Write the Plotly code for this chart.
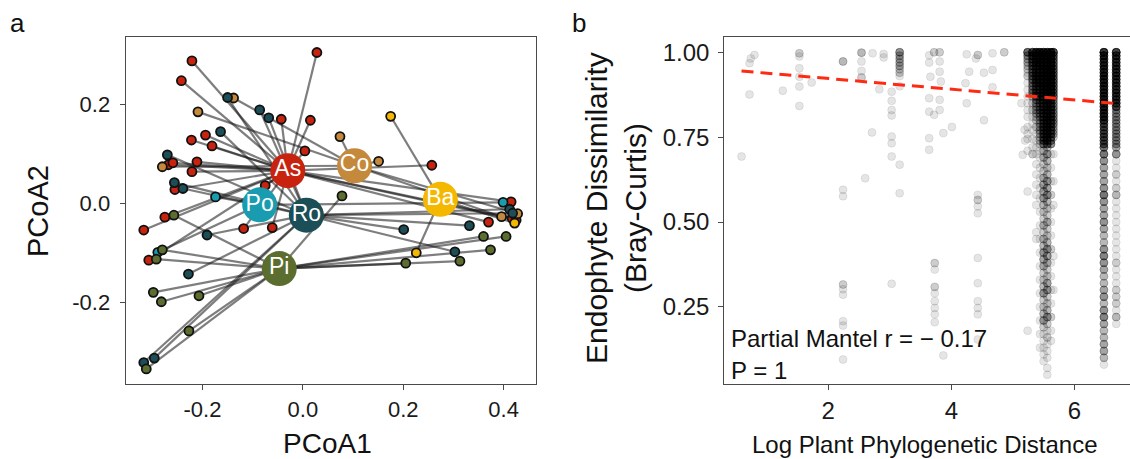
import plotly.graph_objects as go

FONT = "Liberation Sans, Arial, Helvetica, sans-serif"

# ---------------- Panel a : PCoA ----------------
groups = ["As", "Co", "Ba", "Po", "Ro", "Pi"]
group_colors = ["#C8230F", "#C5893B", "#F5B800", "#1A9CB0", "#1B4E56", "#5B6E2F"]
centroid_x = [-0.030, 0.103, 0.274, -0.086, 0.007, -0.047]
centroid_y = [0.066, 0.076, 0.008, -0.003, -0.024, -0.132]

as_x = [0.028, -0.221, -0.242, -0.043, 0.015, -0.222, -0.194, -0.181, 0.004, -0.211, -0.221, -0.268, -0.259,
        -0.255, -0.075, 0.257, -0.317, -0.275, -0.118, -0.061, -0.307, 0.415, 0.417, 0.425, 0.370]
as_y = [0.305, 0.288, 0.248, 0.170, 0.168, 0.128, 0.138, 0.116, 0.106, 0.084, 0.064, 0.078, 0.082,
        0.028, 0.036, 0.077, -0.054, -0.028, -0.051, -0.049, -0.115, 0.003, -0.030, -0.034, -0.038]
co_x = [-0.138, -0.209, 0.074, 0.151, -0.280, 0.396, 0.428]
co_y = [0.213, 0.185, 0.135, 0.085, 0.074, -0.027, -0.021]
ba_x = [0.175, 0.226, 0.422]
ba_y = [0.176, -0.100, -0.040]
po_x = [-0.174, -0.289, 0.399]
po_y = [0.013, -0.099, 0.002]
ro_x = [-0.150, -0.086, -0.068, -0.164, -0.270, -0.256, -0.239, -0.191, -0.228, -0.317, -0.296,
        0.201, 0.332, 0.303, 0.412, 0.418]
ro_y = [0.214, 0.189, 0.173, 0.145, 0.098, 0.042, 0.030, -0.064, -0.143, -0.322, -0.313,
        -0.053, -0.045, -0.098, -0.012, -0.020]
pi_x = [0.078, -0.257, -0.280, -0.292, -0.298, -0.282, -0.207, -0.227, -0.312, 0.205, 0.313, 0.374, 0.360, 0.405]
pi_y = [0.015, -0.024, -0.094, -0.113, -0.180, -0.199, -0.187, -0.258, -0.335, -0.121, -0.117, -0.094, -0.067, -0.067]

a_xticks = [-0.2, 0.0, 0.2, 0.4]
a_xticktext = ["-0.2", "0.0", "0.2", "0.4"]
a_yticks = [-0.2, 0.0, 0.2]
a_yticktext = ["-0.2", "0.0", "0.2"]

# ---------------- Panel b : distance-decay ----------------
sparse_x = [0.59, 0.72, 0.74, 0.80, 1.26, 1.53, 1.73, 2.24, 2.54, 2.60, 2.71, 2.72, 2.83, 2.90,
            3.03, 3.16, 3.64, 3.66, 3.72, 3.73, 3.81, 3.83, 3.87, 4.01, 4.23, 4.25, 4.29, 4.40, 4.43,
            4.53, 4.67, 4.86, 5.14, 5.16, 5.19, 5.20]
sparse_y = [
    [0.693],
    [0.968, 0.876],
    [0.982],
    [0.992],
    [0.887],
    [0.997, 0.997, 0.988, 0.953, 0.928, 0.899, 0.842],
    [0.911],
    [0.973, 0.973, 0.973, 0.595, 0.576, 0.316, 0.316, 0.302, 0.286, 0.208, 0.195, 0.095],
    [0.999, 0.999, 0.999, 0.973, 0.945, 0.926, 0.926],
    [0.629],
    [0.764],
    [0.997],
    [0.891],
    [0.995, 0.985],
    [0.884, 0.857, 0.830, 0.814, 0.752, 0.732, 0.693, 0.318],
    [1.00, 1.00, 1.00, 1.00, 1.00, 0.99, 0.99, 0.99, 0.98, 0.98, 0.98, 0.97, 0.97, 0.97,
     0.96, 0.96, 0.96, 0.95, 0.95, 0.94, 0.94, 0.93, 0.90, 0.669, 0.585],
    [0.991, 0.970, 0.865, 0.825, 0.747, 0.713],
    [0.928],
    [1.00, 1.00, 0.816],
    [0.379, 0.379, 0.360, 0.309, 0.309, 0.290, 0.267, 0.247, 0.228, 0.205],
    [1.00, 1.00, 0.973, 0.943, 0.860, 0.830],
    [0.914],
    [0.762, 0.107],
    [0.780],
    [0.909],
    [0.994, 0.850],
    [0.943],
    [0.982],
    [0.992, 0.992, 0.580, 0.565, 0.565, 0.546, 0.526, 0.394, 0.320, 0.267, 0.247, 0.228, 0.154],
    [0.940, 0.800],
    [0.997, 0.948, 0.897],
    [1.00, 1.00],
    [0.850],
    [0.698],
    [0.772],
    [0.740],
]

TOP14 = [1.00, 0.99, 0.98, 0.97, 0.96, 0.95, 0.94, 0.93, 0.92, 0.91, 0.90, 0.89, 0.88, 0.87]
MID14 = [0.86, 0.85, 0.84, 0.83, 0.82, 0.81, 0.80, 0.79, 0.78, 0.77, 0.76, 0.75, 0.74, 0.73]

dense_x = [5.24, 5.32, 5.38, 5.44, 5.50, 5.56, 5.62, 5.66, 6.48, 6.68]
dense_y = [
    [1.00, 0.99, 0.98, 0.97, 0.96, 0.95, 0.94, 0.93, 0.91, 0.89, 0.87, 0.85, 0.83, 0.81, 0.78, 0.76, 0.745,
     0.71, 0.59, 0.18],
    TOP14 + [0.85, 0.83, 0.81, 0.79, 0.77, 0.745, 0.72, 0.70],
    TOP14 + [0.86, 0.85, 0.84, 0.83, 0.82, 0.81, 0.80, 0.78, 0.76, 0.74, 0.72, 0.70, 0.67, 0.64, 0.61, 0.58,
             0.55, 0.47, 0.45],
    TOP14 + MID14 + [0.71, 0.69, 0.66, 0.63, 0.60, 0.57, 0.53, 0.49, 0.45, 0.41, 0.37, 0.33, 0.29, 0.25, 0.21,
                     0.17, 0.13],
    TOP14 + MID14 + [0.71, 0.69, 0.67, 0.65, 0.63, 0.61, 0.59, 0.57, 0.55, 0.53, 0.51, 0.49, 0.47, 0.45, 0.43,
                     0.41, 0.39, 0.37, 0.35, 0.33, 0.31, 0.29, 0.27, 0.25, 0.23, 0.21, 0.19, 0.17, 0.15, 0.13,
                     0.11, 0.09],
    TOP14 + MID14 + [0.72, 0.70, 0.68, 0.66, 0.64, 0.62, 0.60, 0.58, 0.56, 0.54, 0.52, 0.50, 0.48, 0.46, 0.44,
                     0.42, 0.40, 0.38, 0.36, 0.34, 0.32, 0.30, 0.28, 0.26, 0.24, 0.22, 0.20, 0.18, 0.16, 0.14,
                     0.12, 0.10, 0.07, 0.05],
    TOP14 + MID14 + [0.70, 0.66, 0.62, 0.58, 0.54, 0.50, 0.46, 0.42, 0.38, 0.34, 0.30, 0.26, 0.22, 0.18, 0.15],
    TOP14 + [0.86, 0.85, 0.84, 0.83, 0.82, 0.81, 0.80, 0.79, 0.78, 0.77, 0.76, 0.75, 0.70, 0.62, 0.55, 0.40,
             0.30],
    TOP14 + MID14 + [0.72, 0.70, 0.68, 0.66, 0.64, 0.62, 0.60, 0.58, 0.56, 0.54, 0.52, 0.50, 0.48, 0.46, 0.44,
                     0.42, 0.40, 0.38, 0.36, 0.34, 0.32, 0.30, 0.28, 0.26, 0.24, 0.22, 0.20, 0.18, 0.16, 0.14,
                     0.12, 0.10, 0.08],
    TOP14 + [0.86, 0.85, 0.84, 0.83, 0.82, 0.81, 0.80, 0.79, 0.78, 0.77, 0.76, 0.75, 0.74, 0.73, 0.72, 0.70,
             0.68, 0.66, 0.64, 0.62, 0.60, 0.58, 0.56, 0.54, 0.52, 0.50, 0.48, 0.46, 0.44, 0.42, 0.40, 0.38,
             0.36, 0.34, 0.32, 0.30, 0.28, 0.26, 0.24, 0.22, 0.20],
]
dense_n = [
    [8, 4, 3, 3, 2, 2, 1, 2, 1, 1, 1, 1, 1, 1, 1, 1, 1, 1, 1, 1],
    [10, 6, 6, 6, 5, 5, 5, 5, 5, 4, 4, 4, 4, 3, 2, 2, 1, 1, 1, 1, 1, 2],
    [12, 7, 7, 7, 6, 6, 6, 6, 6, 6, 5, 5, 5, 5, 4, 4, 3, 3, 3, 2, 2, 2, 1, 1, 1, 1, 1, 1, 1, 1, 1, 1, 1],
    [12, 7, 7, 7, 6, 6, 6, 6, 6, 6, 6, 6, 5, 5, 4, 4, 4, 4, 4, 3, 3, 3, 3, 3, 3, 2, 2, 2,
     1, 1, 1, 1, 1, 1, 1, 1, 1, 1, 1, 1, 1, 1, 1, 1, 1],
    [12, 7, 7, 7, 7, 7, 7, 7, 7, 7, 7, 7, 7, 7, 6, 6, 6, 6, 6, 6, 6, 6, 6, 6, 6, 6, 6, 6,
     3, 3, 2, 2, 3, 4, 4, 4, 3, 2, 2, 3, 2, 3, 3, 4, 4, 3, 2, 2, 3, 4, 2, 2, 3, 4, 2, 1, 1, 1, 1, 1],
    [12, 7, 7, 7, 7, 7, 7, 7, 7, 7, 7, 7, 7, 7, 6, 6, 6, 6, 6, 6, 6, 6, 6, 6, 6, 6, 6, 6,
     3, 4, 3, 2, 3, 4, 4, 4, 3, 2, 2, 3, 2, 2, 3, 4, 4, 3, 2, 2, 4, 4, 2, 2, 3, 4, 2, 1, 2, 1, 1, 1, 1, 1],
    [12, 7, 7, 7, 7, 7, 7, 7, 7, 7, 7, 7, 7, 7, 6, 6, 6, 6, 6, 6, 6, 6, 6, 6, 6, 6, 5, 5,
     1, 1, 1, 2, 1, 1, 1, 2, 1, 1, 1, 1, 2, 1, 1],
    [10, 6, 6, 6, 6, 6, 6, 6, 6, 6, 6, 6, 6, 6, 4, 4, 4, 4, 4, 4, 4, 4, 3, 3, 3, 2, 1, 1, 1, 1, 1],
    [14, 10, 10, 10, 10, 10, 10, 10, 10, 10, 10, 10, 10, 10, 10, 10, 10, 10, 10, 10, 10, 7, 7, 7, 7, 7, 7, 7,
     7, 7, 5, 4, 4, 4, 5, 7, 5, 4, 4, 5, 4, 3, 3, 5, 6, 5, 4, 3, 3, 4, 5, 3, 5, 6, 4, 3, 3, 4, 4, 3, 1],
    [12, 9, 9, 9, 9, 9, 9, 9, 9, 9, 9, 9, 9, 9, 9, 9, 9, 4, 4, 4, 4, 4, 4, 4, 4, 4, 4, 4, 4, 5,
     1, 1, 2, 1, 2, 3, 1, 1, 1, 1, 1, 1, 1, 1, 1, 2, 1, 1, 1, 2, 2, 2, 1, 3, 1],
]

fit_x = [0.59, 6.68]
fit_y = [0.945, 0.849]

b_xticks = [2, 4, 6]
b_xticktext = ["2", "4", "6"]
b_yticks = [0.25, 0.50, 0.75, 1.00]
b_yticktext = ["0.25", "0.50", "0.75", "1.00"]

# ---------------- Build figure ----------------
fig = go.Figure()

group_pts = [(as_x, as_y), (co_x, co_y), (ba_x, ba_y), (po_x, po_y), (ro_x, ro_y), (pi_x, pi_y)]

# spider lines (each its own trace so overlaps darken)
for gi, (gx, gy) in enumerate(group_pts):
    for px, py in zip(gx, gy):
        fig.add_trace(go.Scatter(x=[centroid_x[gi], px], y=[centroid_y[gi], py], mode="lines",
                                 line=dict(color="rgba(20,20,20,0.55)", width=2.2),
                                 xaxis="x", yaxis="y", hoverinfo="skip", showlegend=False))
# group points
for gi, (gx, gy) in enumerate(group_pts):
    fig.add_trace(go.Scatter(x=gx, y=gy, mode="markers",
                             marker=dict(size=9, color=group_colors[gi], line=dict(color="#111111", width=1.8)),
                             xaxis="x", yaxis="y", hoverinfo="skip", showlegend=False))
# centroids
fig.add_trace(go.Scatter(x=centroid_x, y=centroid_y, mode="markers+text", text=groups,
                         textposition="middle center",
                         textfont=dict(color="white", size=23, family=FONT),
                         marker=dict(size=35, color=group_colors, line=dict(width=0)),
                         xaxis="x", yaxis="y", hoverinfo="skip", showlegend=False))

# panel b points
bx, by = [], []
for cx, ys in zip(sparse_x, sparse_y):
    for yv in ys:
        bx.append(cx)
        by.append(yv)
for cx, ys, ns in zip(dense_x, dense_y, dense_n):
    for yv, nv in zip(ys, ns):
        for _ in range(nv):
            bx.append(cx)
            by.append(yv)

fig.add_trace(go.Scatter(x=bx, y=by, mode="markers",
                         marker=dict(size=8, color="rgba(0,0,0,0.1)",
                                     line=dict(color="rgba(0,0,0,0.1)", width=0.8)),
                         xaxis="x2", yaxis="y2", hoverinfo="skip", showlegend=False))
fig.add_trace(go.Scatter(x=fit_x, y=fit_y, mode="lines",
                         line=dict(color="#FF2A12", width=3, dash="12px,7px"),
                         xaxis="x2", yaxis="y2", hoverinfo="skip", showlegend=False))

W, H = 1130, 459
axis_common = dict(showgrid=False, zeroline=False, showline=True, linecolor="#4a4a4a", linewidth=1.3,
                   ticks="outside", ticklen=5, tickwidth=1.3, tickcolor="#4a4a4a")

fig.update_layout(
    width=W, height=H,
    margin=dict(l=0, r=0, t=0, b=0),
    paper_bgcolor="white", plot_bgcolor="white",
    font=dict(family=FONT, color="#1a1a1a"),
    xaxis=dict(domain=[125.7 / W, 535.7 / W], range=[-0.353, 0.464], mirror=True,
               tickvals=a_xticks, ticktext=a_xticktext, tickfont=dict(size=22, color="#1a1a1a"),
               anchor="y", **axis_common),
    yaxis=dict(domain=[1 - 384.3 / H, 1 - 36.7 / H], range=[-0.366, 0.337], mirror=True,
               tickvals=a_yticks, ticktext=a_yticktext, tickfont=dict(size=22, color="#1a1a1a"),
               anchor="x", ticklabelstandoff=5, **axis_common),
    xaxis2=dict(domain=[724.3 / W, 1.0], range=[0.31, 6.904], mirror=True,
                tickvals=b_xticks, ticktext=b_xticktext, tickfont=dict(size=24, color="#1a1a1a"),
                anchor="y2", **axis_common),
    yaxis2=dict(domain=[1 - 384.3 / H, 1 - 36.7 / H], range=[0.022, 1.046], mirror=False,
                tickvals=b_yticks, ticktext=b_yticktext, tickfont=dict(size=24, color="#1a1a1a"),
                anchor="x2", ticklabelstandoff=4, **axis_common),
)

ann = [
    dict(text="a", x=17 / W, y=1 - 23 / H, size=26, angle=0),
    dict(text="b", x=579 / W, y=1 - 23 / H, size=26, angle=0),
    dict(text="PCoA2", x=38 / W, y=1 - 211 / H, size=29, angle=-90),
    dict(text="PCoA1", x=327 / W, y=1 - 443 / H, size=28, angle=0),
    dict(text="Endophyte Dissimilarity<br>(Bray-Curtis)", x=616 / W, y=1 - 208 / H, size=30, angle=-90),
    dict(text="Log Plant Phylogenetic Distance", x=925 / W, y=1 - 444 / H, size=24, angle=0),
]
for a in ann:
    fig.add_annotation(text=a["text"], x=a["x"], y=a["y"], xref="paper", yref="paper",
                       xanchor="center", yanchor="middle", showarrow=False, textangle=a["angle"],
                       font=dict(size=a["size"], color="#111111", family=FONT))

fig.add_annotation(text="Partial Mantel r = \u2212 0.17", x=729 / W, y=1 - 338 / H, xref="paper", yref="paper",
                   xanchor="left", yanchor="middle", showarrow=False,
                   font=dict(size=24, color="#111111", family=FONT))
fig.add_annotation(text="P = 1", x=729 / W, y=1 - 370 / H, xref="paper", yref="paper",
                   xanchor="left", yanchor="middle", showarrow=False,
                   font=dict(size=24, color="#111111", family=FONT))

fig.write_html("out.html")
